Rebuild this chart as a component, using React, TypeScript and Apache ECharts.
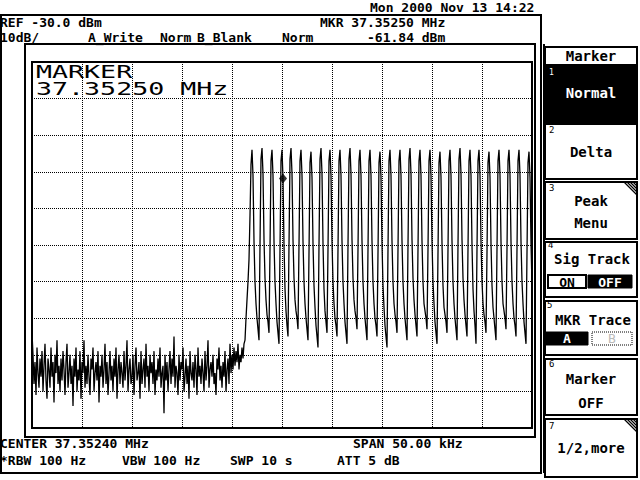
import React, { useEffect, useRef } from "react";
import * as echarts from "echarts";

// ---- Instrument settings ----
const CENTER_MHZ = "37.35240";
const SPAN_KHZ = 50;
const POINTS = 501;
const REF_DBM = -30;
const BOTTOM_DBM = -130;
const DB_PER_DIV = 10;

// ---- Trace A (dBm per sweep point) ----
const NOISE_DBM = [
  -104, -110, -118, -112, -121, -108, -115, -119, -111, -116,
  -109, -120, -113, -107, -117, -122, -111, -114, -119, -108,
  -116, -112, -123, -110, -115, -106, -118, -113, -120, -111,
  -117, -109, -114, -121, -112, -107, -119, -115, -110, -118,
  -113, -124, -111, -116, -108, -120, -114, -117, -109, -122,
  -112, -115, -106, -119, -113, -118, -110, -116, -121, -111,
  -114, -108, -120, -115, -112, -117, -109, -123, -113, -116,
  -110, -119, -114, -107, -118, -112, -121, -115, -109, -117,
  -113, -120, -111, -116, -108, -122, -114, -110, -118, -112,
  -115, -119, -109, -117, -113, -106, -120, -114, -111, -118,
  -116, -110, -121, -113, -108, -117, -115, -112, -122, -109,
  -118, -114, -111, -119, -107, -116, -113, -120, -110, -115,
  -112, -118, -109, -121, -114, -117, -111, -116, -108, -119,
  -115, -113, -126, -110, -117, -112, -120, -114, -109, -118,
  -111, -116, -105, -119, -113, -115, -121, -110, -117, -112,
  -114, -108, -120, -116, -111, -118, -113, -122, -109, -115,
  -117, -112, -119, -110, -114, -121, -108, -116, -113, -118,
  -111, -115, -120, -109, -117, -113, -106, -119, -114, -112,
  -116, -110, -118, -115, -121, -111, -114, -108, -117, -113,
  -119, -112, -116, -109, -120, -114, -111, -118, -107, -115,
  -110, -114, -108, -113, -109, -112, -107, -114, -110, -112,
  -108, -111, -107,
];

const RISE_DBM = [-106, -100, -95, -90, -84, -72, -58];

const COMB_DBM = [
  -54, -61, -79, -90, -96, -100, -103, -106, -80, -56.5,
  -53.5, -60.5, -78.5, -89, -95, -99, -101, -104, -81, -57,
  -54, -61, -79, -90, -96, -101, -104, -107, -81, -57,
  -54, -61.84, -80, -92, -98, -102, -105, -80, -56.5,
  -53.5, -60.5, -78.5, -89, -95, -98, -100, -103, -80, -57,
  -54, -61, -79, -90, -96, -100, -103, -106, -82, -57.5,
  -54.5, -61.5, -79.5, -91, -97, -102, -105, -108, -80, -56.5,
  -53.5, -60.5, -79.5, -92, -98, -101, -104, -81, -57,
  -54, -61, -79, -90, -96, -100, -102, -105, -81, -57,
  -54, -61, -79, -90, -96, -101, -104, -107, -80, -56.5,
  -53.5, -60.5, -78.5, -89, -95, -98, -100, -103, -81, -57,
  -54, -61, -79, -90, -96, -100, -103, -106, -81, -57,
  -54, -61, -79, -90, -96, -100, -102, -105, -82, -57.5,
  -54.5, -61.5, -79.5, -91, -97, -102, -105, -108, -81, -57,
  -54, -61, -79, -90, -96, -99, -101, -104, -81, -57,
  -54, -61, -79, -90, -96, -100, -103, -106, -80, -56.5,
  -53.5, -60.5, -78.5, -89, -95, -99, -102, -105, -81, -57,
  -54, -61, -79, -90, -96, -98, -100, -103, -81, -57,
  -54, -61, -79, -90, -96, -101, -104, -107, -82, -57.5,
  -54.5, -61.5, -79.5, -91, -97, -99, -101, -104, -81, -57,
  -54, -61, -79, -90, -96, -100, -103, -106, -80, -56.5,
  -53.5, -60.5, -78.5, -89, -95, -99, -102, -105, -81, -57,
  -54, -61, -80, -92, -98, -102, -107, -81, -57,
  -54, -61, -79, -90, -96, -99, -101, -104, -82, -57.5,
  -54.5, -61.5, -79.5, -91, -97, -100, -103, -106, -81, -57,
  -54, -61, -79, -90, -96, -98, -100, -103, -81, -57,
  -54, -61, -79, -90, -96, -100, -102, -105, -81, -57,
  -54, -61, -79, -90, -96, -101, -104, -107, -82, -57.5,
  -54.5, -61.5, -79.5, -91,
];

// ---- Marker ----
const MARKER_OFFSET_KHZ = 0.1; // 37.35250 MHz vs centre 37.35240 MHz
const MARKER_DBM = -61.84;

// ---- Screen texts ----
const DATE_TEXT = "Mon 2000 Nov 13 14:22";
const REF_TEXT = "REF -30.0 dBm";
const SCALE_TEXT = "10dB/";
const TRACE_A_TEXT = ["A_Write", "Norm"];
const TRACE_B_TEXT = ["B_Blank", "Norm"];
const MKR_FREQ_TEXT = "MKR 37.35250 MHz";
const MKR_LEVEL_TEXT = "-61.84 dBm";
const BIG_MARKER_TEXT = ["MARKER", "37.35250 MHz"];
const CENTER_TEXT = "CENTER " + CENTER_MHZ + " MHz";
const SPAN_TEXT = "SPAN 50.00 kHz";
const RBW_TEXT = "*RBW 100 Hz";
const VBW_TEXT = "VBW 100 Hz";
const SWP_TEXT = "SWP 10 s";
const ATT_TEXT = "ATT 5 dB";
const MENU_TITLE = "Marker";

const MONO = '"DejaVu Sans Mono", "Liberation Mono", monospace';

function txt(text: string, x: number, y: number, extra: any = {}) {
  const { align = "left", color = "#000", size = 13, weight = "bold", scaleX = 1 } = extra;
  return {
    type: "text",
    x,
    y,
    scaleX,
    silent: true,
    z: 10,
    style: {
      text,
      x: 0,
      y: 0,
      fill: color,
      font: `${weight} ${size}px ${MONO}`,
      textAlign: align,
      textVerticalAlign: "middle",
    },
  };
}

function box(x: number, y: number, w: number, h: number, fill: string | null, lw = 2, dash: any = null) {
  return {
    type: "rect",
    silent: true,
    z: 5,
    shape: { x, y, width: w, height: h },
    style: { fill, stroke: "#000", lineWidth: lw, lineDash: dash },
  };
}

function line(x1: number, y1: number, x2: number, y2: number, lw = 2) {
  return {
    type: "line",
    silent: true,
    z: 5,
    shape: { x1, y1, x2, y2 },
    style: { stroke: "#000", lineWidth: lw },
  };
}

function hatch(right: number, top: number) {
  const els: any[] = [];
  for (let k = 0; k < 4; k++) {
    els.push(line(right - 13 + 3 * k, top, right, top + 13 - 3 * k, 1.2));
  }
  return els;
}

export default function App() {
  const ref = useRef<HTMLDivElement>(null);

  useEffect(() => {
    if (!ref.current) return;
    const chart = echarts.init(ref.current, null, { renderer: "svg" });

    const trace = [...NOISE_DBM, ...RISE_DBM, ...COMB_DBM];
    const step = SPAN_KHZ / (POINTS - 1);
    const data = trace.map((v, i) => [-SPAN_KHZ / 2 + i * step, v]);

    const graphics: any[] = [
      // outer frame and inner frame
      box(1, 15, 540, 458, null, 2),
      box(25, 44, 510, 393, null, 2),
      line(544, 44, 544, 473, 2),
      // header
      txt(DATE_TEXT, 370, 7.5),
      txt(REF_TEXT, 0, 22),
      txt(MKR_FREQ_TEXT, 320, 22),
      txt(SCALE_TEXT, 0, 37),
      txt(TRACE_A_TEXT[0], 88, 37),
      txt(TRACE_A_TEXT[1], 160, 37),
      txt(TRACE_B_TEXT[0], 197, 37),
      txt(TRACE_B_TEXT[1], 282, 37),
      txt(MKR_LEVEL_TEXT, 367, 37),
      // big marker readout on graticule
      txt(BIG_MARKER_TEXT[0], 36, 71.5, { size: 18, weight: "normal", scaleX: 1.48 }),
      txt(BIG_MARKER_TEXT[1], 36, 88.5, { size: 18, weight: "normal", scaleX: 1.48 }),
      // footer
      txt(CENTER_TEXT, 0, 443),
      txt(SPAN_TEXT, 353, 443),
      txt(RBW_TEXT, 0, 460),
      txt(VBW_TEXT, 122, 460),
      txt(SWP_TEXT, 230, 460),
      txt(ATT_TEXT, 337, 460),
      // side menu
      box(545, 47, 92, 18, null, 2),
      txt(MENU_TITLE, 591, 56, { align: "center", size: 14 }),
      box(545, 65, 92, 57, "#000", 2),
      txt("1", 549, 72, { size: 8, color: "#fff", weight: "normal" }),
      txt("Normal", 591, 93, { align: "center", color: "#fff", size: 14 }),
      box(545, 124, 92, 55, null, 2),
      txt("2", 549, 130, { size: 9, weight: "normal" }),
      txt("Delta", 591, 152, { align: "center", size: 14 }),
      box(545, 182, 92, 57, null, 2),
      ...hatch(637, 182),
      txt("3", 549, 188, { size: 9, weight: "normal" }),
      txt("Peak", 591, 201, { align: "center", size: 14 }),
      txt("Menu", 591, 223, { align: "center", size: 14 }),
      box(545, 242, 92, 55, null, 2),
      txt("4", 548, 245, { size: 9, weight: "normal" }),
      txt("Sig Track", 592, 259, { align: "center", size: 14 }),
      box(548, 275, 38, 13, null, 2),
      txt("ON", 567, 282, { align: "center" }),
      box(588, 275, 44, 13, "#000", 1),
      txt("OFF", 610, 282, { align: "center", color: "#fff" }),
      box(545, 301, 92, 54, null, 2),
      txt("5", 547, 305, { size: 9, weight: "normal" }),
      txt("MKR Trace", 593, 320, { align: "center", size: 14 }),
      box(546, 332, 42, 13, "#000", 1),
      txt("A", 567, 338.5, { align: "center", color: "#fff" }),
      box(592, 332, 40, 13, null, 1, [1, 1]),
      txt("B", 612, 338.5, { align: "center", color: "#bbb", weight: "normal" }),
      box(545, 359, 92, 56, null, 2),
      txt("6", 549, 364, { size: 9, weight: "normal" }),
      txt("Marker", 591, 379, { align: "center", size: 14 }),
      txt("OFF", 591, 403, { align: "center", size: 14 }),
      box(545, 419, 92, 58, null, 2),
      ...hatch(637, 419),
      txt("7", 549, 426, { size: 9, weight: "normal" }),
      txt("1/2,more", 591, 448, { align: "center", size: 14 }),
    ];

    chart.setOption({
      animation: false,
      backgroundColor: "#fff",
      grid: {
        left: 32,
        top: 62,
        width: 500,
        height: 366,
        show: true,
        borderColor: "#000",
        borderWidth: 2,
        backgroundColor: "transparent",
      },
      xAxis: {
        type: "value",
        min: -SPAN_KHZ / 2,
        max: SPAN_KHZ / 2,
        interval: SPAN_KHZ / 10,
        axisLine: { show: false },
        axisTick: { show: false },
        axisLabel: { show: false },
        splitLine: { show: true, lineStyle: { color: "#000", width: 1, type: [1, 1] } },
      },
      yAxis: {
        type: "value",
        min: BOTTOM_DBM,
        max: REF_DBM,
        interval: DB_PER_DIV,
        axisLine: { show: false },
        axisTick: { show: false },
        axisLabel: { show: false },
        splitLine: { show: true, lineStyle: { color: "#000", width: 1, type: [1, 1] } },
      },
      series: [
        {
          type: "line",
          data,
          showSymbol: false,
          symbol: "none",
          lineStyle: { color: "#000", width: 1.3 },
          silent: true,
          z: 3,
        },
        {
          type: "scatter",
          data: [[MARKER_OFFSET_KHZ, MARKER_DBM]],
          symbol: "diamond",
          symbolSize: [8, 10],
          itemStyle: { color: "#000" },
          silent: true,
          z: 4,
        },
      ],
      graphic: graphics,
    });

    return () => chart.dispose();
  }, []);

  return (
    <div
      ref={ref}
      style={{ position: "absolute", left: 0, top: 0, width: 640, height: 480, background: "#fff" }}
    />
  );
}
